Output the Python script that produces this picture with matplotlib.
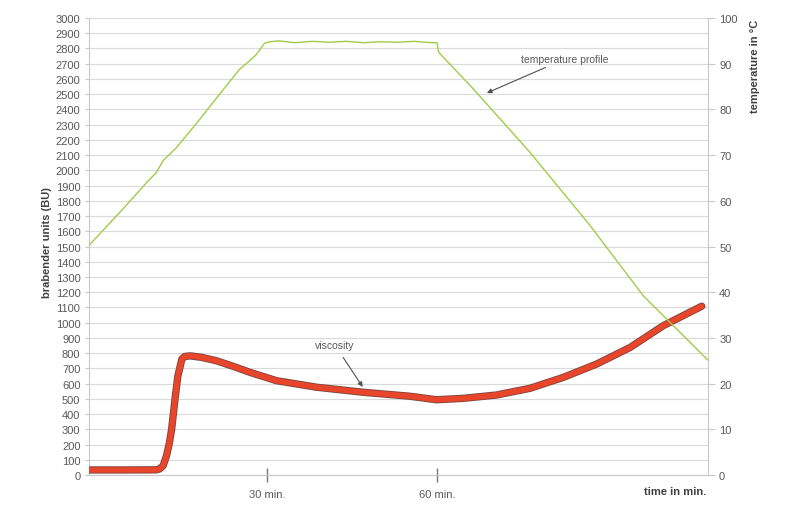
import matplotlib.pyplot as plt
import matplotlib.patheffects as pe
import numpy as np

plt.rcParams['font.family'] = ['Liberation Sans', 'DejaVu Sans']

# viscosity (brabender units), time in minutes
visc_time = [-1.4, 5.0, 10.5, 11.1, 11.7, 12.3, 12.8, 13.2, 13.8, 14.3, 15.0, 15.5, 16.5,
             18.5, 21.1, 24.0, 27.0, 31.7, 38.8, 47.0, 55.2, 59.9, 64.6, 70.5, 76.4,
             82.3, 88.2, 94.1, 99.9, 106.7]
visc_bu = [33, 33, 34, 40, 61, 127, 210, 300, 500, 650, 760, 778, 782,
           772, 750, 714, 674, 619, 576, 543, 517, 494, 503, 525, 569,
           641, 729, 838, 980, 1108]

# temperature profile in °C
temp_time = [-1.4, 4.6, 8.8, 10.5, 11.7, 14.1, 18.2, 21.7, 25.2, 27.0, 28.2, 29.6, 30.5,
             32, 35, 38, 41, 44, 47, 50, 53, 56, 59, 60.0,
             60.3, 66.4, 76.4, 87.0, 96.4, 101.1, 107.9]
temp_c = [50.2, 58.2, 64.0, 66.2, 68.8, 71.7, 77.9, 83.4, 88.8, 90.7, 92.1, 94.5, 94.8,
          95.0, 94.6, 94.9, 94.7, 94.9, 94.6, 94.8, 94.7, 94.9, 94.6, 94.6,
          92.5, 84.5, 70.6, 54.6, 39.2, 33.4, 25.0]

x_ticks = [30, 60]
x_labels = ['30 min.', '60 min.']

grey_txt = '#595959'
dark_txt = '#404040'
line_grey = '#c8c8c8'

fig = plt.figure(figsize=(8, 5.1), dpi=100)
ax = fig.add_axes([0.111, 0.0667, 0.774, 0.896])

ax.set_xlim(-1.41, 107.8)
ax.set_ylim(0, 3000)
ax.set_yticks(np.arange(0, 3001, 100))
ax.grid(axis='y', color='#dadada', lw=0.8)
ax.set_axisbelow(True)
ax.tick_params(axis='y', length=3, color=line_grey, labelsize=8, labelcolor=grey_txt, pad=3)
ax.set_xticks(x_ticks)
ax.set_xticklabels(x_labels)
ax.tick_params(axis='x', direction='inout', length=10, width=1, color='#777777',
               labelsize=8, labelcolor=grey_txt, pad=5)
for s in ['left', 'right', 'bottom']:
    ax.spines[s].set_color(line_grey)
ax.spines['top'].set_visible(False)

ax.plot(visc_time, visc_bu, color='#e8452a', lw=4.0, solid_capstyle='round',
        solid_joinstyle='round',
        path_effects=[pe.Stroke(linewidth=5.3, foreground='#80463d'), pe.Normal()], zorder=3)

ax2 = ax.twinx()
ax2.set_ylim(0, 100)
ax2.set_yticks(np.arange(0, 101, 10))
ax2.tick_params(axis='y', length=5, color=line_grey, labelsize=8, labelcolor=grey_txt, pad=3)
for s in ['left', 'right', 'bottom', 'top']:
    ax2.spines[s].set_visible(False)
ax2.plot(temp_time, temp_c, color='#9fcd48', lw=1.0, zorder=4)

ax.annotate('viscosity', xy=(46.9, 578), xytext=(42.0, 853), ha='center', va='center',
            fontsize=7.5, color=grey_txt,
            arrowprops=dict(arrowstyle='-|>', color='#505050', lw=0.8, mutation_scale=7,
                            shrinkA=4, shrinkB=0))
ax2.annotate('temperature profile', xy=(68.8, 83.6), xytext=(74.8, 91.0), ha='left', va='center',
             fontsize=7.5, color=grey_txt,
             arrowprops=dict(arrowstyle='-|>', color='#505050', lw=0.8, mutation_scale=7,
                             shrinkA=1, shrinkB=0))

fig.text(0.059, 0.525, 'brabender units (BU)', rotation=90, ha='center', va='center',
         fontsize=8, fontweight='bold', color=dark_txt)
fig.text(0.944, 0.961, 'temperature in °C', rotation=90, ha='center', va='top',
         fontsize=8, fontweight='bold', color=dark_txt)
fig.text(0.883, 1 - 492 / 510, 'time in min.', ha='right', va='center',
         fontsize=8, fontweight='bold', color=dark_txt)

fig.savefig('out.png', dpi=100)
